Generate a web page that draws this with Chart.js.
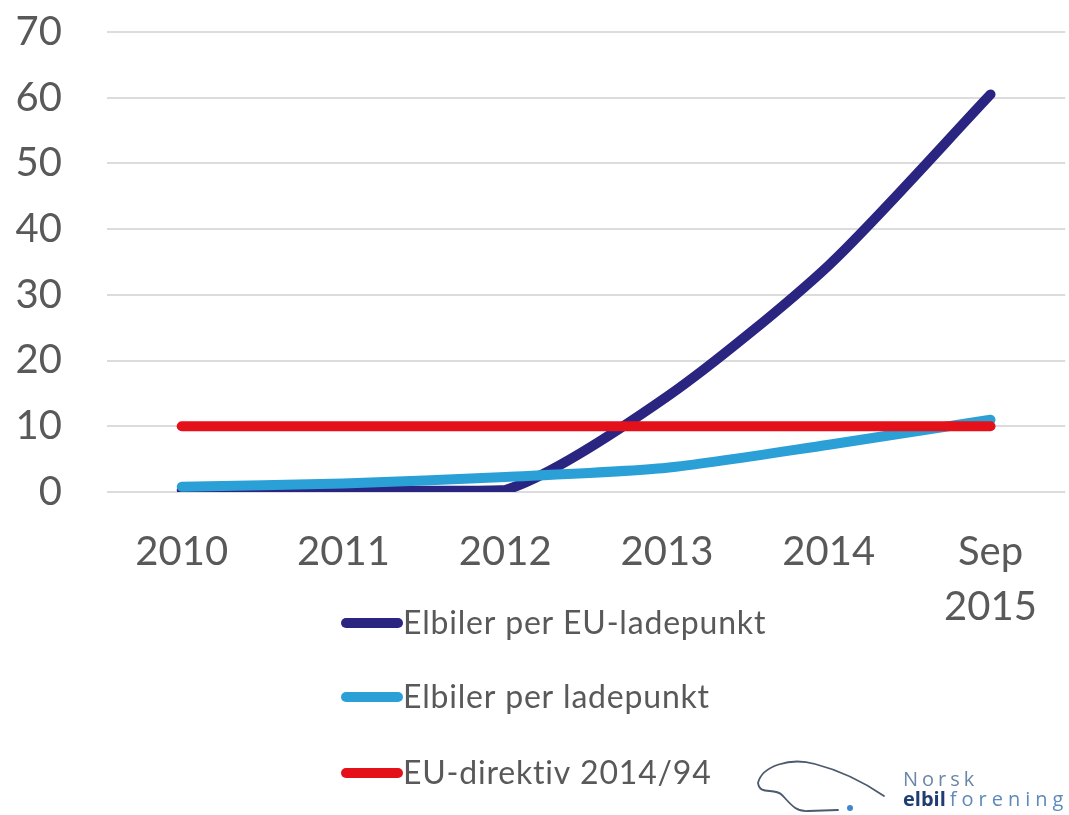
<!DOCTYPE html>
<html lang="no">
<head>
    <meta charset="UTF-8">
    <title>Elbiler per ladepunkt</title>
    <style>
        html, body { margin: 0; padding: 0; background: #fff; }
        #wrap { width: 1069px; height: 815px; }
    </style>
    <script src="https://cdn.jsdelivr.net/npm/chart.js"></script>
</head>
<body>
    <div id="wrap"><canvas id="chart" width="1069" height="815"></canvas></div>

    <script>
        // values
        const xLabels = ['2010', '2011', '2012', '2013', '2014', ['Sep', '2015']];
        const euPointCars = [0.3, 0.3, 0.3, 14.5, 34.5, 60.5];
        const allPointCars = [0.8, 1.3, 2.3, 3.7, 7.2, 11];
        const euDirective = [10, 10, 10, 10, 10, 10];
        const seriesNames = ['Elbiler per EU-ladepunkt', 'Elbiler per ladepunkt', 'EU-direktiv 2014/94'];
        const seriesColors = ['#2a2580', '#2ba0d6', '#e4111b'];

        const toPoints = arr => arr.map((v, i) => ({ x: i, y: v }));
        const textGrey = '#595959';

        // legend drawn as a vertical list under the axis, plus the logo text
        const sideLegend = {
            id: 'sideLegend',
            afterDraw(chart) {
                const ctx = chart.ctx;
                ctx.save();
                const rows = [623, 697, 773];
                chart.data.datasets.forEach((ds, i) => {
                    const y = rows[i];
                    ctx.strokeStyle = ds.borderColor;
                    ctx.lineWidth = 10;
                    ctx.lineCap = 'round';
                    ctx.beginPath();
                    ctx.moveTo(346, y);
                    ctx.lineTo(398, y);
                    ctx.stroke();
                    ctx.fillStyle = textGrey;
                    ctx.font = '32px Lato';
                    ctx.letterSpacing = '0.8px';
                    ctx.textBaseline = 'middle';
                    ctx.fillText(ds.label, 403, y + 1);
                });
                ctx.letterSpacing = '0px';

                // logo: car outline and name
                ctx.strokeStyle = '#4b5a6e';
                ctx.lineWidth = 1.8;
                ctx.lineCap = 'round';
                ctx.beginPath();
                ctx.moveTo(758, 783);
                ctx.bezierCurveTo(762, 766, 790, 757, 815, 764);
                ctx.bezierCurveTo(842, 771, 868, 785, 884, 796);
                ctx.moveTo(758, 783);
                ctx.bezierCurveTo(760, 796, 774, 787, 782, 795);
                ctx.bezierCurveTo(790, 803, 795, 812, 808, 811);
                ctx.lineTo(838, 810);
                ctx.stroke();
                ctx.fillStyle = '#3f86cf';
                ctx.beginPath();
                ctx.arc(850, 808, 3, 0, Math.PI * 2);
                ctx.fill();

                ctx.textBaseline = 'alphabetic';
                ctx.font = '20px "Open Sans"';
                ctx.letterSpacing = '4px';
                ctx.fillStyle = '#6a86a8';
                ctx.fillText('Norsk', 903, 786);
                ctx.font = 'bold 20px "Open Sans"';
                ctx.letterSpacing = '0px';
                ctx.fillStyle = '#1f3d72';
                ctx.fillText('elbil', 903, 806);
                const w = ctx.measureText('elbil').width;
                ctx.font = '20px "Open Sans"';
                ctx.letterSpacing = '5px';
                ctx.fillStyle = '#5d8abb';
                ctx.fillText('forening', 903 + w + 4, 806);
                ctx.restore();
            }
        };

        new Chart(document.getElementById('chart'), {
            type: 'line',
            data: {
                datasets: [
                    { label: seriesNames[0], data: toPoints(euPointCars), borderColor: seriesColors[0], order: 3 },
                    { label: seriesNames[1], data: toPoints(allPointCars), borderColor: seriesColors[1], order: 2 },
                    { label: seriesNames[2], data: toPoints(euDirective), borderColor: seriesColors[2], order: 1, tension: 0 }
                ]
            },
            options: {
                responsive: false,
                animation: false,
                devicePixelRatio: 1,
                layout: { padding: { top: 32, right: 1, left: 0, bottom: 0 } },
                elements: {
                    line: { borderWidth: 10, borderCapStyle: 'round', borderJoinStyle: 'round', tension: 0.25, fill: false },
                    point: { radius: 0, hoverRadius: 0 }
                },
                plugins: {
                    legend: { display: false },
                    tooltip: { enabled: false }
                },
                scales: {
                    x: {
                        type: 'linear',
                        min: -0.462,
                        max: 5.462,
                        afterBuildTicks: scale => { scale.ticks = xLabels.map((l, i) => ({ value: i })); },
                        afterFit: scale => { scale.height = 323; },
                        grid: { display: false, drawTicks: false },
                        border: { display: false },
                        ticks: {
                            callback: (v, i) => xLabels[v],
                            color: textGrey,
                            font: { family: 'Lato', size: 40, lineHeight: 1.38 },
                            padding: 32,
                            maxRotation: 0,
                            autoSkip: false
                        }
                    },
                    y: {
                        min: 0,
                        max: 70,
                        afterFit: scale => {
                            scale.width = 107;
                            scale.paddingTop = 20;
                            scale.paddingBottom = 20;
                        },
                        grid: { color: '#dcdcdc', lineWidth: 2, drawTicks: false },
                        border: { display: false },
                        ticks: {
                            stepSize: 10,
                            color: textGrey,
                            font: { family: 'Lato', size: 40 },
                            padding: 45
                        }
                    }
                }
            },
            plugins: [sideLegend]
        });
    </script>
</body>
</html>
